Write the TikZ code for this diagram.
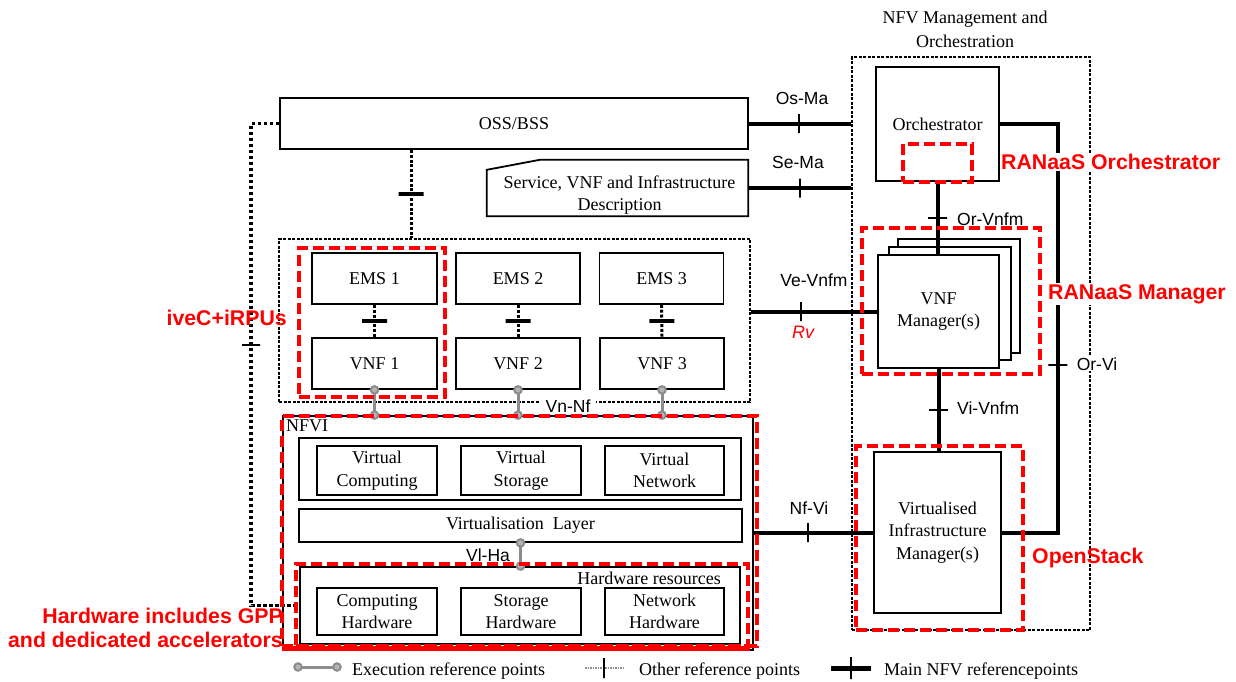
\documentclass[tikz,border=0pt]{standalone}
\usepackage{fontspec}
\setmainfont{Liberation Serif}
\newfontfamily\arialf{Liberation Sans}
\usetikzlibrary{arrows.meta}
\definecolor{execgray}{HTML}{8C8C8C}
\begin{document}
\begin{tikzpicture}[x=1pt,y=-1pt,
  serif/.style={font=\fontsize{18}{22.5}\selectfont},
  box/.style={draw, line width=1.8pt, fill=white, inner sep=0pt, align=center, serif},
  thinbox/.style={draw, line width=1.2pt, dash pattern=on 3pt off 1.5pt, inner sep=0pt},
  reddash/.style={draw=red, line width=4.5pt, dash pattern=on 11pt off 5pt, inner sep=0pt},
  mainln/.style={line width=4pt},
  dotthick/.style={line width=3.5pt, dash pattern=on 3.5pt off 2.5pt},
  dotmed/.style={line width=3pt, dash pattern=on 3pt off 1.8pt},
  exec/.style={draw=execgray, line width=3pt, {Circle[length=9.5pt, fill=execgray!65, line width=2pt]}-{Circle[length=9.5pt, fill=execgray!65, line width=2pt]}, shorten <=-4.75pt, shorten >=-4.75pt},
  tickv/.style={draw, solid, line width=2pt, minimum width=0pt, minimum height=19pt, inner sep=0pt},
  tickh/.style={draw, solid, line width=2pt, minimum width=19pt, minimum height=0pt, inner sep=0pt},
  tickd/.style={draw, solid, line width=3.5pt, minimum width=25pt, minimum height=0pt, inner sep=0pt},
  lbl/.style={font=\arialf\fontsize{17.5}{21}\selectfont, inner sep=1pt},
  redlbl/.style={font=\arialf\bfseries\fontsize{21.3}{23.5}\selectfont, text=red, inner sep=1pt},
]
\useasboundingbox (0,0) rectangle (1236,681);

% title
\node[align=center, font=\fontsize{18}{24}\selectfont] (title) at (965,29) {NFV Management and\\Orchestration};

% dotted group boxes
\node[thinbox, minimum width=238pt, minimum height=573pt] (mano) at (971,343.5) {};
\node[thinbox, minimum width=471pt, minimum height=163pt] (vnfgrp) at (514.5,320.5) {};

% OSS/BSS
\node[box, minimum width=468pt, minimum height=51pt] (oss) at (514,123.5) {OSS/BSS};

% Service description
\node[inner sep=0pt, minimum width=261pt, minimum height=56pt] (svc) at (617.5,188) {};
\draw[line width=1.8pt, fill=white] (svc.south west) -- ([yshift=-10pt]svc.north west) -- ([xshift=53pt]svc.north west) -- (svc.north east) -- (svc.south east) -- cycle;
\node[serif, align=center, inner sep=0pt] (svctxt) at ([xshift=2pt,yshift=-7pt]svc.center) {Service, VNF and Infrastructure\\Description};

% MANO
\node[box, minimum width=123pt, minimum height=114pt] (orch) at (937.5,124) {Orchestrator};
\node[box, minimum width=122pt, minimum height=114pt] (vnfmc) at (959,296) {};
\node[box, minimum width=122pt, minimum height=113pt] (vnfmb) at (950,303.5) {};
\node[box, minimum width=121pt, minimum height=113pt] (vnfm) at (938.5,311.5) {VNF\\Manager(s)};
\node[box, minimum width=127pt, minimum height=161pt] (vim) at (937.5,532.5) {Virtualised\\Infrastructure\\Manager(s)};

% EMS / VNF
\node[box, minimum width=125pt, minimum height=51pt] (ems1) at (374.5,278.5) {EMS 1};
\node[box, minimum width=125pt, minimum height=51pt] (vnf1) at (374.5,363.5) {VNF 1};
\node[box, minimum width=124pt, minimum height=51pt] (ems2) at (518,278.5) {EMS 2};
\node[box, minimum width=124pt, minimum height=51pt] (vnf2) at (518,363.5) {VNF 2};
\node[box, minimum width=124pt, minimum height=51pt] (ems3) at (661.5,278.5) {EMS 3};
\node[box, minimum width=124pt, minimum height=51pt] (vnf3) at (662,363.5) {VNF 3};

% NFVI
\node[box, minimum width=470pt, minimum height=234pt] (nfvi) at (518,533) {};
\node[serif, anchor=north west, inner sep=0pt] (nfvilbl) at (286,420) {NFVI};
\node[box, minimum width=442pt, minimum height=62pt] (vgroup) at (520,469) {};
\node[box, minimum width=120pt, minimum height=49pt] (vcomp) at (377,470.5) {Virtual\\Computing};
\node[box, minimum width=120pt, minimum height=49pt] (vstor) at (521,470.5) {Virtual\\Storage};
\node[box, minimum width=119pt, minimum height=49pt] (vnet) at (664.5,470.5) {Virtual\\Network};
\node[box, minimum width=443pt, minimum height=33pt] (vlayer) at (520.5,525.5) {Virtualisation\hspace{9pt}Layer};
\node[box, minimum width=440pt, minimum height=77pt] (hwres) at (520,605.5) {};
\node[serif, anchor=east, inner sep=0pt] (hwlbl) at (721,578) {Hardware resources};
\node[box, minimum width=120pt, minimum height=47pt] (chw) at (377,611.5) {Computing\\Hardware};
\node[box, minimum width=120pt, minimum height=47pt] (shw) at (521,611.5) {Storage\\Hardware};
\node[box, minimum width=119pt, minimum height=47pt] (nhw) at (664.5,611.5) {Network\\Hardware};

% main reference points
\draw[mainln] (oss.east) -- node[tickv, pos=0.49]{} (mano.west |- oss.east);
\draw[mainln] (svc.east) -- node[tickv, pos=0.5]{} (mano.west |- svc.east);
\draw[mainln] (vnfgrp.east |- vnfm.west) -- node[tickv, pos=0.4]{} (vnfm.west);
\draw[mainln] (nfvi.east |- vim.west) -- node[tickv, pos=0.455]{} (vim.west);
\draw[mainln] (orch.south) -- node[tickh]{} (orch.south |- vnfm.north);
\draw[mainln] (vnfm.south) -- node[tickh]{} (vnfm.south |- vim.north);
\coordinate (orviT) at ([xshift=58pt]orch.east);
\draw[mainln] (orch.east) -- (orviT) -- node[pos=0.59, tickh]{} (orviT |- vim.east) -- (vim.east);

% other reference points
\coordinate (ossd) at ([xshift=-103pt]oss.south);
\draw[dotmed] (ossd) -- node[tickd]{} (ossd |- vnfgrp.north);
\coordinate (lcorner) at ([xshift=-28pt]oss.west);
\draw[dotthick] (oss.west) -- (lcorner) |- node[pos=0.23, tickh, minimum width=18pt]{} (hwres.west);
\draw[dotmed] (ems1.south) -- node[tickd]{} (vnf1.north);
\draw[dotmed] (ems2.south) -- node[tickd]{} (vnf2.north);
\draw[dotmed] (ems3.south) -- node[tickd]{} (vnf3.north);

% execution reference points
\draw[exec] (vnf1.south) -- (vnf1.south |- nfvi.north);
\draw[exec] (vnf2.south) -- (vnf2.south |- nfvi.north);
\draw[exec] (vnf3.south) -- (vnf3.south |- nfvi.north);
\draw[exec] (vlayer.south) -- (vlayer.south |- hwres.north);

% red dashed highlights
\node[reddash, minimum width=69pt, minimum height=38pt] (rorch) at (937.5,163) {};
\node[reddash, minimum width=178pt, minimum height=146pt] (rmgr) at (951,301) {};
\node[reddash, minimum width=167pt, minimum height=184pt] (ros) at (939.5,538) {};
\node[reddash, minimum width=146pt, minimum height=149pt] (rivec) at (372,322.5) {};
\node[reddash, minimum width=475pt, minimum height=230pt] (rnfvi) at (519.5,531) {};
\node[reddash, minimum width=452pt, minimum height=82pt] (rhw) at (522,605) {};
\draw[red, line width=4.5pt] ([xshift=2pt]rnfvi.south west) -- (rhw.south east);

% labels
\node[lbl] (lOsMa) at (802,98.5) {Os-Ma};
\node[lbl] (lSeMa) at (798,162) {Se-Ma};
\node[lbl] (lVeVnfm) at (814,280) {Ve-Vnfm};
\node[lbl, text=red, font=\arialf\itshape\fontsize{18}{21}\selectfont] (lRv) at (803,332) {Rv};
\node[lbl] (lNfVi) at (809,508) {Nf-Vi};
\node[lbl, anchor=west] (lOrVnfm) at (956,219) {Or-Vnfm};
\node[lbl, anchor=west] (lViVnfm) at (956,408) {Vi-Vnfm};
\node[lbl, fill=white] (lOrVi) at (1097,364) {Or-Vi};
\node[lbl, fill=white, inner xsep=6pt, inner ysep=0.5pt] (lVnNf) at (568,406) {Vn-Nf};
\node[lbl] (lVlHa) at (488,555) {Vl-Ha};

\node[redlbl, fill=white, anchor=west] (tOrch) at (1000,162) {RANaaS Orchestrator};
\node[redlbl, fill=white, anchor=west] (tMgr) at (1047,294) {RANaaS Manager};
\node[redlbl, anchor=east] (tIvec) at (288,318) {iveC+iRPUs};
\node[redlbl, anchor=west] (tOS) at (1031,558) {OpenStack};
\node[redlbl, anchor=east, align=right] (tHw) at (284,628) {Hardware includes GPP\\and dedicated accelerators};

% legend
\coordinate (lgA1) at (298,667);
\coordinate (lgA2) at (337,667);
\draw[exec] (lgA1) -- (lgA2);
\node[serif, anchor=base west, inner sep=0pt] (lgAt) at (352,675) {Execution reference points};
\coordinate (lgB1) at (585,668);
\coordinate (lgB2) at (623,668);
\draw[line width=1.5pt, execgray, dash pattern=on 1.5pt off 1pt] (lgB1) -- node[tickv, black, minimum height=20pt, line width=1.5pt]{} (lgB2);
\node[serif, anchor=base west, inner sep=0pt] (lgBt) at (639,675) {Other reference points};
\coordinate (lgC1) at (831,668);
\coordinate (lgC2) at (871,668);
\draw[mainln, line width=5pt] (lgC1) -- node[tickv, minimum height=22pt, line width=2.5pt]{} (lgC2);
\node[serif, anchor=base west, inner sep=0pt] (lgCt) at (884,675) {Main NFV referencepoints};
\end{tikzpicture}
\end{document}
